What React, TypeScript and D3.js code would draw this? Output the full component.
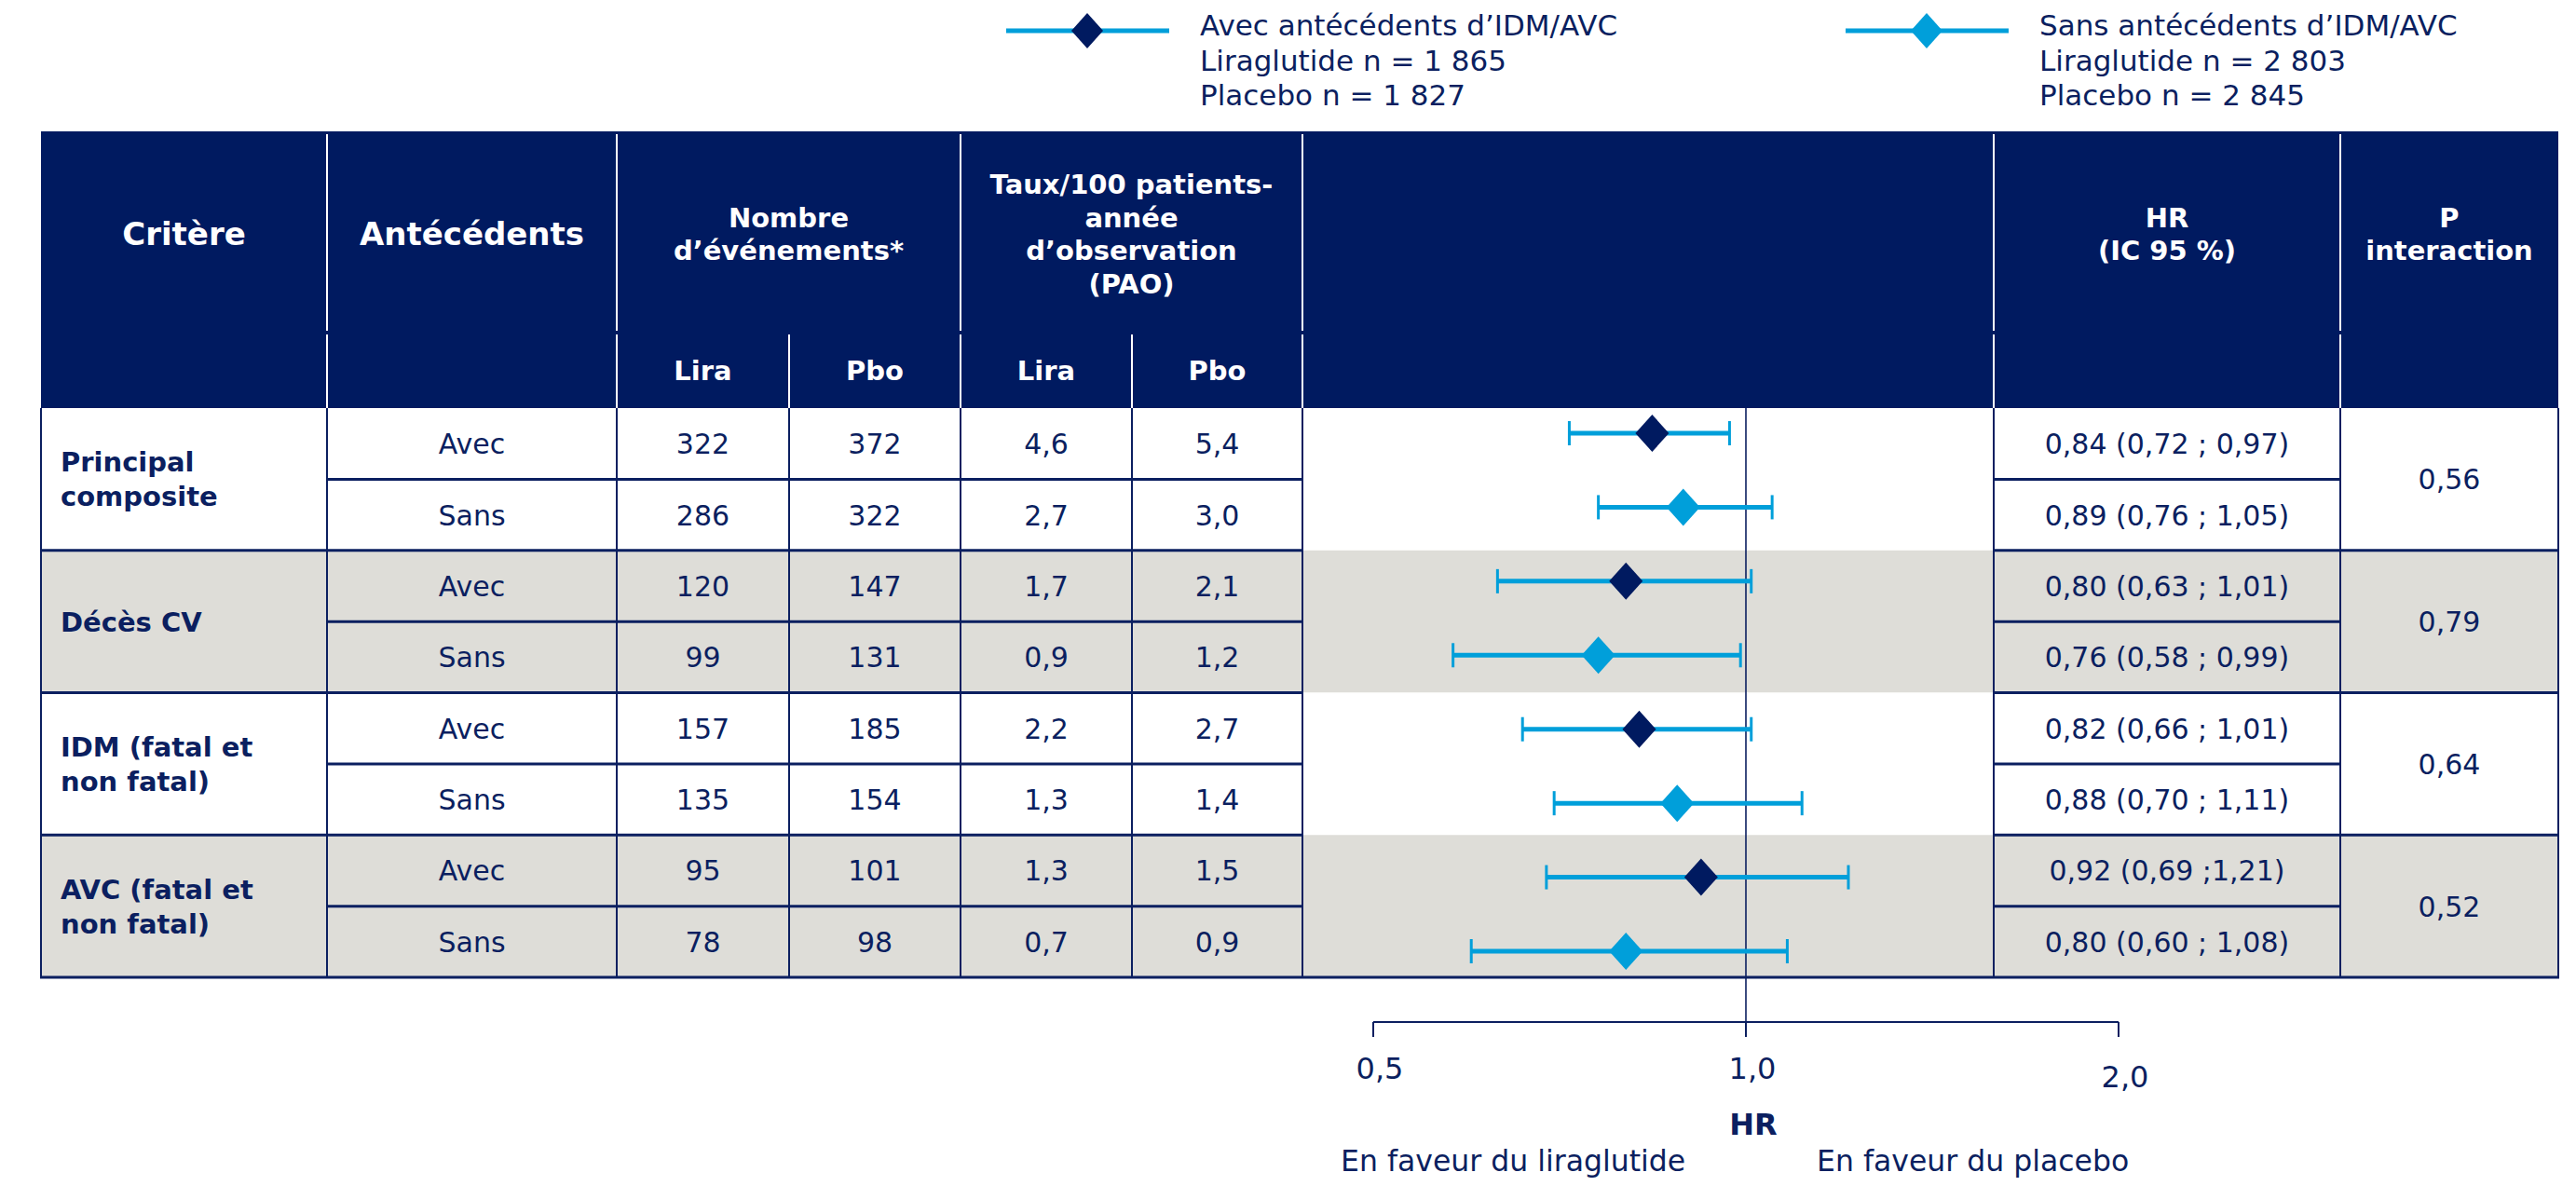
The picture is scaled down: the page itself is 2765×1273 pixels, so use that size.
import React from "react";
import * as d3 from "d3";

// ---- data ----
const criteria = [
  ["Principal", "composite"],
  ["Décès CV"],
  ["IDM (fatal et", "non fatal)"],
  ["AVC (fatal et", "non fatal)"],
];
const pInteraction = ["0,56", "0,79", "0,64", "0,52"];
const subgroups = ["Avec", "Sans", "Avec", "Sans", "Avec", "Sans", "Avec", "Sans"];
const liraEvents = [322, 286, 120, 99, 157, 135, 95, 78];
const pboEvents = [372, 322, 147, 131, 185, 154, 101, 98];
const liraRate = [4.6, 2.7, 1.7, 0.9, 2.2, 1.3, 1.3, 0.7];
const pboRate = [5.4, 3.0, 2.1, 1.2, 2.7, 1.4, 1.5, 0.9];
const hr = [0.84, 0.89, 0.8, 0.76, 0.82, 0.88, 0.92, 0.8];
const ciLow = [0.72, 0.76, 0.63, 0.58, 0.66, 0.7, 0.69, 0.6];
const ciHigh = [0.97, 1.05, 1.01, 0.99, 1.01, 1.11, 1.21, 1.08];
const hrLabels = [
  "0,84 (0,72 ; 0,97)",
  "0,89 (0,76 ; 1,05)",
  "0,80 (0,63 ; 1,01)",
  "0,76 (0,58 ; 0,99)",
  "0,82 (0,66 ; 1,01)",
  "0,88 (0,70 ; 1,11)",
  "0,92 (0,69 ;1,21)",
  "0,80 (0,60 ; 1,08)",
];
const tickValues = [0.5, 1, 2];
const tickLabels = ["0,5", "1,0", "2,0"];
const legendItems = [
  ["Avec antécédents d’IDM/AVC", "Liraglutide n = 1 865", "Placebo n = 1 827"],
  ["Sans antécédents d’IDM/AVC", "Liraglutide n = 2 803", "Placebo n = 2 845"],
];

// ---- styles ----
const W = 2765;
const H = 1273;
const FONT = "'DejaVu Sans', Verdana, sans-serif";
const HEAD_BG = "#001A60";
const NAVY = "#0B1F60";
const BLUE = "#009FDA";
const GRAY = "#DEDDD8";

const colX = [44, 351, 662, 847, 1031, 1215, 1398, 2140, 2512, 2746];
const headTop = 141;
const headMid = 357;
const headBottom = 438;
const tableBottom = 1049;

const fmt = (v: number) => v.toFixed(1).replace(".", ",");
const mid = (a: number, b: number) => (a + b) / 2;

export default function App() {
  const rows = d3.range(subgroups.length);
  const y = d3.scaleBand<number>().domain(rows).range([headBottom, tableBottom]);
  const yPlot = d3.scalePoint<number>().domain(rows).range([465, 1021]);
  const x = d3.scaleLog().domain([0.5, 2]).range([1474, 2274]);

  const rowCenter = (i: number) => (y(i) as number) + y.bandwidth() / 2;
  const groupTop = (g: number) => y(g * 2) as number;
  const groupBottom = (g: number) => (y(g * 2 + 1) as number) + y.bandwidth();

  const diamond = (cx: number, cy: number, hw: number, hh: number) =>
    `M${cx},${cy - hh}L${cx + hw},${cy}L${cx},${cy + hh}L${cx - hw},${cy}Z`;

  const headText = (lines: string[], cx: number, cy: number, size: number, lh: number) =>
    lines.map((t, k) => (
      <text
        key={k}
        x={cx}
        y={cy - ((lines.length - 1) * lh) / 2 + k * lh + size * 0.36}
        textAnchor="middle"
        fontWeight="bold"
        fontSize={size}
        fill="#fff"
      >
        {t}
      </text>
    ));

  return (
    <svg
      width={W}
      height={H}
      style={{ position: "absolute", left: 0, top: 0, background: "#fff" }}
      fontFamily={FONT}
    >
      {/* legend */}
      {legendItems.map((lines, k) => {
        const x0 = k === 0 ? 1080 : 1981;
        return (
          <g key={k}>
            <line x1={x0} x2={x0 + 175} y1={33} y2={33} stroke={BLUE} strokeWidth={5} />
            <path d={diamond(x0 + 87, 33, 17, 19)} fill={k === 0 ? HEAD_BG : BLUE} />
            {lines.map((t, j) => (
              <text key={j} x={x0 + 208} y={38 + j * 37.5} fontSize={31} fill={NAVY}>
                {t}
              </text>
            ))}
          </g>
        );
      })}

      {/* header */}
      <rect x={colX[0]} y={headTop} width={colX[9] - colX[0]} height={headBottom - headTop} fill={HEAD_BG} />
      {[1, 2, 4, 6, 7, 8].map((c) => (
        <g key={c}>
          <line x1={colX[c]} x2={colX[c]} y1={headTop + 3} y2={headMid - 2} stroke="#fff" strokeWidth={2} />
          <line x1={colX[c]} x2={colX[c]} y1={headMid + 2} y2={headBottom} stroke="#fff" strokeWidth={2} />
        </g>
      ))}
      {[3, 5].map((c) => (
        <line key={c} x1={colX[c]} x2={colX[c]} y1={headMid + 2} y2={headBottom} stroke="#fff" strokeWidth={2} />
      ))}
      {headText(["Critère"], mid(colX[0], colX[1]), 251, 34, 35)}
      {headText(["Antécédents"], mid(colX[1], colX[2]), 251, 34, 35)}
      {headText(["Nombre", "d’événements*"], mid(colX[2], colX[4]), 251, 29, 35)}
      {headText(["Taux/100 patients-", "année", "d’observation", "(PAO)"], mid(colX[4], colX[6]), 251, 29, 35.5)}
      {headText(["HR", "(IC 95 %)"], mid(colX[7], colX[8]), 251, 29, 35)}
      {headText(["P", "interaction"], mid(colX[8], colX[9]), 251, 29, 35)}
      {[2, 3, 4, 5].map((c, k) =>
        headText([k % 2 === 0 ? "Lira" : "Pbo"], mid(colX[c], colX[c + 1]), mid(headMid, headBottom), 29, 35)
      )}

      {/* body backgrounds */}
      {criteria.map((_, g) => (
        <rect
          key={g}
          x={colX[0]}
          y={groupTop(g)}
          width={colX[9] - colX[0]}
          height={groupBottom(g) - groupTop(g)}
          fill={g % 2 === 1 ? GRAY : "#fff"}
        />
      ))}

      {/* body grid */}
      {colX.map((cx, c) => (
        <line key={c} x1={cx} x2={cx} y1={headBottom} y2={tableBottom} stroke={NAVY} strokeWidth={2} />
      ))}
      {criteria.map((_, g) => {
        const ySub = y(g * 2 + 1) as number;
        const yTop = groupTop(g);
        return (
          <g key={g}>
            <line x1={colX[1]} x2={colX[6]} y1={ySub} y2={ySub} stroke={NAVY} strokeWidth={3} />
            <line x1={colX[7]} x2={colX[8]} y1={ySub} y2={ySub} stroke={NAVY} strokeWidth={3} />
            {g > 0 && (
              <>
                <line x1={colX[0]} x2={colX[6]} y1={yTop} y2={yTop} stroke={NAVY} strokeWidth={3} />
                <line x1={colX[7]} x2={colX[9]} y1={yTop} y2={yTop} stroke={NAVY} strokeWidth={3} />
              </>
            )}
          </g>
        );
      })}
      <line x1={colX[0] - 1} x2={colX[9] + 1} y1={tableBottom} y2={tableBottom} stroke={NAVY} strokeWidth={3} />

      {/* body text */}
      <g fill={NAVY} fontSize={30} textAnchor="middle">
        {criteria.map((lines, g) => {
          const cy = mid(groupTop(g), groupBottom(g));
          return (
            <g key={g}>
              {lines.map((t, k) => (
                <text
                  key={k}
                  x={65}
                  y={cy - ((lines.length - 1) * 37) / 2 + k * 37 + 10.5}
                  textAnchor="start"
                  fontWeight="bold"
                  fontSize={29}
                >
                  {t}
                </text>
              ))}
              <text x={mid(colX[8], colX[9])} y={cy + 11}>
                {pInteraction[g]}
              </text>
            </g>
          );
        })}
        {rows.map((i) => {
          const ty = rowCenter(i) + 11;
          return (
            <g key={i}>
              <text x={mid(colX[1], colX[2])} y={ty}>{subgroups[i]}</text>
              <text x={mid(colX[2], colX[3])} y={ty}>{liraEvents[i]}</text>
              <text x={mid(colX[3], colX[4])} y={ty}>{pboEvents[i]}</text>
              <text x={mid(colX[4], colX[5])} y={ty}>{fmt(liraRate[i])}</text>
              <text x={mid(colX[5], colX[6])} y={ty}>{fmt(pboRate[i])}</text>
              <text x={mid(colX[7], colX[8])} y={ty}>{hrLabels[i]}</text>
            </g>
          );
        })}
      </g>

      {/* forest plot */}
      <line x1={x(1)} x2={x(1)} y1={headBottom} y2={1113} stroke={NAVY} strokeWidth={1.6} />
      {rows.map((i) => {
        const cy = yPlot(i) as number;
        return (
          <g key={i}>
            <line x1={x(ciLow[i])} x2={x(ciHigh[i])} y1={cy} y2={cy} stroke={BLUE} strokeWidth={5} />
            <line x1={x(ciLow[i])} x2={x(ciLow[i])} y1={cy - 13} y2={cy + 13} stroke={BLUE} strokeWidth={3} />
            <line x1={x(ciHigh[i])} x2={x(ciHigh[i])} y1={cy - 13} y2={cy + 13} stroke={BLUE} strokeWidth={3} />
            <path d={diamond(x(hr[i]), cy, 18, 20)} fill={i % 2 === 0 ? HEAD_BG : BLUE} />
          </g>
        );
      })}

      {/* axis */}
      <line x1={x(0.5)} x2={x(2)} y1={1097} y2={1097} stroke={NAVY} strokeWidth={2} />
      {tickValues.map((v, k) => (
        <g key={k}>
          <line x1={x(v)} x2={x(v)} y1={1097} y2={1113} stroke={NAVY} strokeWidth={2} />
          <text
            x={x(v) + 7}
            y={1158 + (k === tickValues.length - 1 ? 9 : 0)}
            textAnchor="middle"
            fontSize={32}
            fill={NAVY}
          >
            {tickLabels[k]}
          </text>
        </g>
      ))}
      <text x={x(1) + 8} y={1218} textAnchor="middle" fontSize={32} fontWeight="bold" fill={NAVY}>
        HR
      </text>
      <text x={1439} y={1257} fontSize={31.5} fill={NAVY}>
        En faveur du liraglutide
      </text>
      <text x={1950} y={1257} fontSize={31.5} fill={NAVY}>
        En faveur du placebo
      </text>
    </svg>
  );
}
